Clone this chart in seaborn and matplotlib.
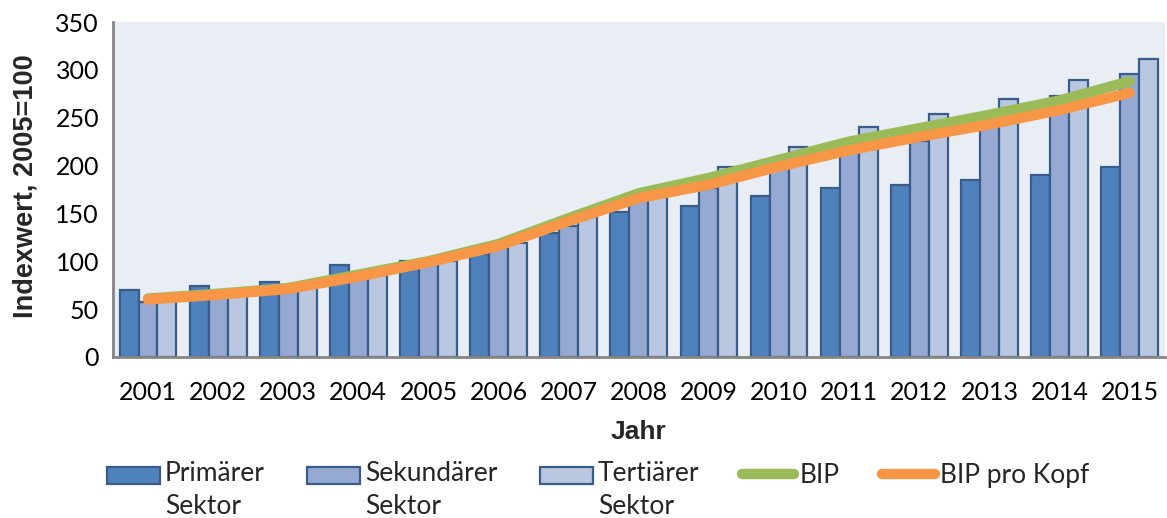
import numpy as np
import pandas as pd
import matplotlib
matplotlib.use("Agg")
import matplotlib.pyplot as plt
from matplotlib.transforms import Affine2D
from matplotlib.patches import Patch
import seaborn as sns

years = ["2001", "2002", "2003", "2004", "2005", "2006", "2007", "2008",
         "2009", "2010", "2011", "2012", "2013", "2014", "2015"]
primaer = [70, 74, 78, 96, 100, 108, 129, 151, 158, 168, 177, 180, 185, 190, 198]
sekundaer = [57, 62, 69, 85, 100, 114, 137, 164, 177, 198, 214, 226, 254, 273, 296]
tertiaer = [58, 65, 74, 86, 100, 119, 147, 168, 198, 219, 240, 254, 270, 289, 311]
bip = [61, 66, 72, 86, 100, 118, 145, 171, 187, 206, 225, 239, 253, 268, 288]
bip_kopf = [60, 65, 71, 84, 99, 116, 142, 166, 180, 199, 216, 230, 243, 258, 276]

sector_names = ["Primärer\nSektor", "Sekundärer\nSektor", "Tertiärer\nSektor"]
line_names = ["BIP", "BIP pro Kopf"]

bar_colors = ["#4F81BD", "#95A9D2", "#BAC7E0"]
edge_color = "#385D8A"
line_colors = ["#9BBB59", "#F79646"]

sns.set_theme(style="white")
plt.rcParams["font.family"] = ["Lato", "DejaVu Sans"]

df = pd.DataFrame({
    "Jahr": years * 3,
    "Wert": primaer + sekundaer + tertiaer,
    "Sektor": [sector_names[0]] * len(years) + [sector_names[1]] * len(years) + [sector_names[2]] * len(years),
})

fig = plt.figure(figsize=(11.67, 5.18), dpi=100)
ax = fig.add_axes([0.0968, 0.311, 0.9012, 0.6465])
ax.set_facecolor("#E9EDF4")

sns.barplot(data=df, x="Jahr", y="Wert", hue="Sektor", hue_order=sector_names,
            palette=bar_colors, order=years, width=0.81, edgecolor=edge_color,
            linewidth=1.6, ax=ax, saturation=1, legend=True)

xpos = np.arange(len(years))
ld = pd.DataFrame({"x": np.concatenate([xpos, xpos]),
                   "y": bip + bip_kopf,
                   "Serie": [line_names[0]] * len(years) + [line_names[1]] * len(years)})
sns.lineplot(data=ld, x="x", y="y", hue="Serie", hue_order=line_names,
             palette=line_colors, linewidth=7.5, ax=ax, legend=True,
             solid_capstyle="round")

ax.set_xlim(-0.5, len(years) - 0.5)
ax.set_ylim(0, 350)
ax.set_yticks(range(0, 351, 50))
ax.set_xticks(xpos)
ax.set_xticklabels(years)
ax.tick_params(axis="both", length=0, labelsize=18, colors="#000000")
ax.tick_params(axis="x", pad=17)
ax.tick_params(axis="y", pad=10)
for s in ["top", "right"]:
    ax.spines[s].set_visible(False)
for s in ["left", "bottom"]:
    ax.spines[s].set_color("#868686")
    ax.spines[s].set_linewidth(2)

ax.set_xlabel("Jahr", fontsize=19, fontweight="bold", family="Liberation Sans", labelpad=12)
ax.set_ylabel("Indexwert, 2005=100", fontsize=19.5, fontweight="bold", family="Liberation Sans")
ax.yaxis.set_label_coords(-0.071, 0.51)

handles, labels = ax.get_legend_handles_labels()
ax.get_legend().remove()
for h in handles:
    if hasattr(h, "set_solid_capstyle"):
        h.set_solid_capstyle("round")
leg = fig.legend(handles, labels, loc="upper left", bbox_to_anchor=(107 / 1167, 1 - 461 / 518),
                 ncol=5, frameon=False, fontsize=19, handlelength=2.0, handleheight=0.6,
                 handletextpad=0.2, columnspacing=1.6, labelspacing=0.1,
                 borderpad=0, borderaxespad=0)
for t in leg.get_texts():
    t.set_linespacing(1.38)

# align handles (and single-line entries) with the first text line
fig.canvas.draw()
r = fig.canvas.get_renderer()
texts = leg.get_texts()
lhandles = leg.legend_handles


def shift(artist, dy):
    if isinstance(artist, Patch):
        base = artist.get_data_transform()
    else:
        base = artist.get_transform()
    artist.set_transform(base + Affine2D().translate(0, dy))


ref_bb = texts[0].get_window_extent(r)
target = ref_bb.y1 - ref_bb.height / 4.0
for h, t in zip(lhandles, texts):
    if "\n" in t.get_text():
        hb = h.get_window_extent(r)
        shift(h, target - (hb.y0 + hb.y1) / 2.0)
    else:
        tb = t.get_window_extent(r)
        dy = target - (tb.y0 + tb.y1) / 2.0
        shift(h, dy)
        shift(t, dy)

fig.savefig("out.png", dpi=100)
